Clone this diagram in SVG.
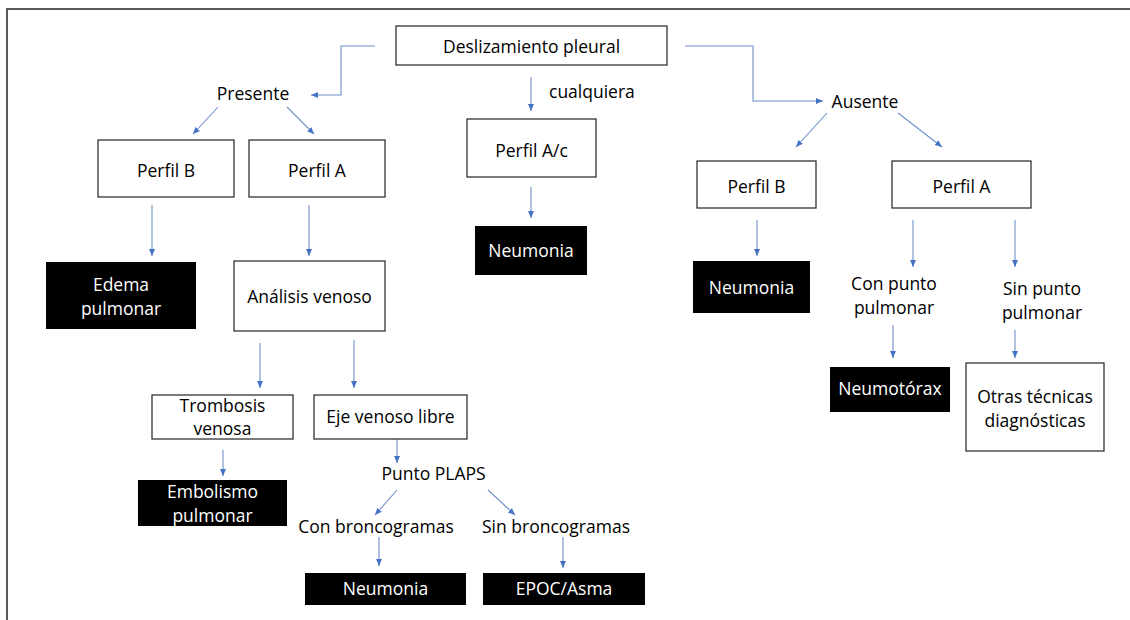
<svg xmlns="http://www.w3.org/2000/svg" width="1130" height="620" viewBox="0 0 1130 620">
<defs>
<marker id="ah" markerUnits="userSpaceOnUse" markerWidth="8" markerHeight="8" viewBox="0 0 8 8" refX="7" refY="4" orient="auto">
<path d="M0,1 L7,4 L0,7 Z" fill="#4472C4"/>
</marker>
<style>
.box{fill:#fff;stroke:#333;stroke-width:1.3}
.blk{fill:#000;stroke:none}
.t{font-family:"Open Sans","Noto Sans",sans-serif;font-size:17.5px;fill:#000;text-anchor:middle}
.w{fill:#fff}
.c{fill:none;stroke:#6f8fc9;stroke-width:1.1;marker-end:url(#ah)}
</style>
</defs>
<rect width="1130" height="620" fill="#fff"/>
<path d="M7,620 V9 H1130" fill="none" stroke="#595959" stroke-width="2"/>

<g id="connectors">
<path class="c" d="M375,46 H341 V95 H311"/>
<path class="c" d="M685,46 H753 V101 H823"/>
<path class="c" d="M531,77 V111"/>
<path class="c" d="M218,107 L193,134"/>
<path class="c" d="M287,107 L314,134"/>
<path class="c" d="M827,113 L796,147"/>
<path class="c" d="M898,113 L942,147"/>
<path class="c" d="M152,205 V256"/>
<path class="c" d="M309,205 V256"/>
<path class="c" d="M531,187 V218"/>
<path class="c" d="M757,220 V256"/>
<path class="c" d="M913,220 V267"/>
<path class="c" d="M1015,220 V267"/>
<path class="c" d="M260,343 V388"/>
<path class="c" d="M354,340 V388"/>
<path class="c" d="M893,325 V358"/>
<path class="c" d="M1015,330 V358"/>
<path class="c" d="M223,450 V476"/>
<path class="c" d="M397,439 V463"/>
<path class="c" d="M397,490 L375,515"/>
<path class="c" d="M488,490 L515,515"/>
<path class="c" d="M379,537 V566"/>
<path class="c" d="M563,537 V568"/>
</g>

<g id="deslizamiento"><rect class="box" x="396" y="26" width="271" height="39"/><text class="t" x="531.5" y="53">Deslizamiento pleural</text></g>
<g id="presente"><text class="t" x="253" y="100">Presente</text></g>
<g id="cualquiera"><text class="t" x="549" y="98" style="text-anchor:start">cualquiera</text></g>
<g id="ausente"><text class="t" x="865" y="108">Ausente</text></g>

<g id="perfilB-izq"><rect class="box" x="98" y="140" width="136" height="57"/><text class="t" x="166" y="177">Perfil B</text></g>
<g id="perfilA-izq"><rect class="box" x="249" y="140" width="136" height="57"/><text class="t" x="317" y="177">Perfil A</text></g>
<g id="perfilAc"><rect class="box" x="467" y="119" width="129" height="58"/><text class="t" x="531.5" y="157">Perfil A/c</text></g>
<g id="perfilB-der"><rect class="box" x="697" y="161" width="119" height="47"/><text class="t" x="756.5" y="193">Perfil B</text></g>
<g id="perfilA-der"><rect class="box" x="892" y="161" width="139" height="47"/><text class="t" x="961.5" y="193">Perfil A</text></g>

<g id="edema"><rect class="blk" x="46" y="262" width="150" height="67"/><text class="t w" x="121" y="291">Edema</text><text class="t w" x="121" y="315">pulmonar</text></g>
<g id="analisis"><rect class="box" x="234" y="261" width="151" height="70"/><text class="t" x="309.5" y="303">Análisis venoso</text></g>
<g id="neumonia-centro"><rect class="blk" x="475" y="226" width="112" height="49"/><text class="t w" x="531" y="257">Neumonia</text></g>
<g id="neumonia-der"><rect class="blk" x="693" y="261" width="117" height="52"/><text class="t w" x="751.5" y="294">Neumonia</text></g>

<g id="con-punto"><text class="t" x="894" y="290">Con punto</text><text class="t" x="894" y="314">pulmonar</text></g>
<g id="sin-punto"><text class="t" x="1042" y="295">Sin punto</text><text class="t" x="1042" y="319">pulmonar</text></g>
<g id="neumotorax"><rect class="blk" x="830" y="367" width="120" height="45"/><text class="t w" x="890" y="395">Neumotórax</text></g>
<g id="otras"><rect class="box" x="966" y="363" width="138" height="88"/><text class="t" x="1035" y="403">Otras técnicas</text><text class="t" x="1035" y="427">diagnósticas</text></g>

<g id="trombosis"><rect class="box" x="152" y="395" width="141" height="44"/><text class="t" x="222.5" y="412">Trombosis</text><text class="t" x="222.5" y="435">venosa</text></g>
<g id="eje"><rect class="box" x="314" y="395" width="153" height="44"/><text class="t" x="390.5" y="423">Eje venoso libre</text></g>
<g id="embolismo"><rect class="blk" x="138" y="480" width="149" height="46"/><text class="t w" x="212.5" y="498">Embolismo</text><text class="t w" x="212.5" y="522">pulmonar</text></g>
<g id="plaps"><text class="t" x="433.5" y="480">Punto PLAPS</text></g>
<g id="con-bronco"><text class="t" x="376" y="533">Con broncogramas</text></g>
<g id="sin-bronco"><text class="t" x="556" y="533">Sin broncogramas</text></g>
<g id="neumonia-abajo"><rect class="blk" x="305" y="573" width="161" height="32"/><text class="t w" x="385.5" y="595">Neumonia</text></g>
<g id="epoc"><rect class="blk" x="483" y="573" width="162" height="32"/><text class="t w" x="564" y="595">EPOC/Asma</text></g>
</svg>
